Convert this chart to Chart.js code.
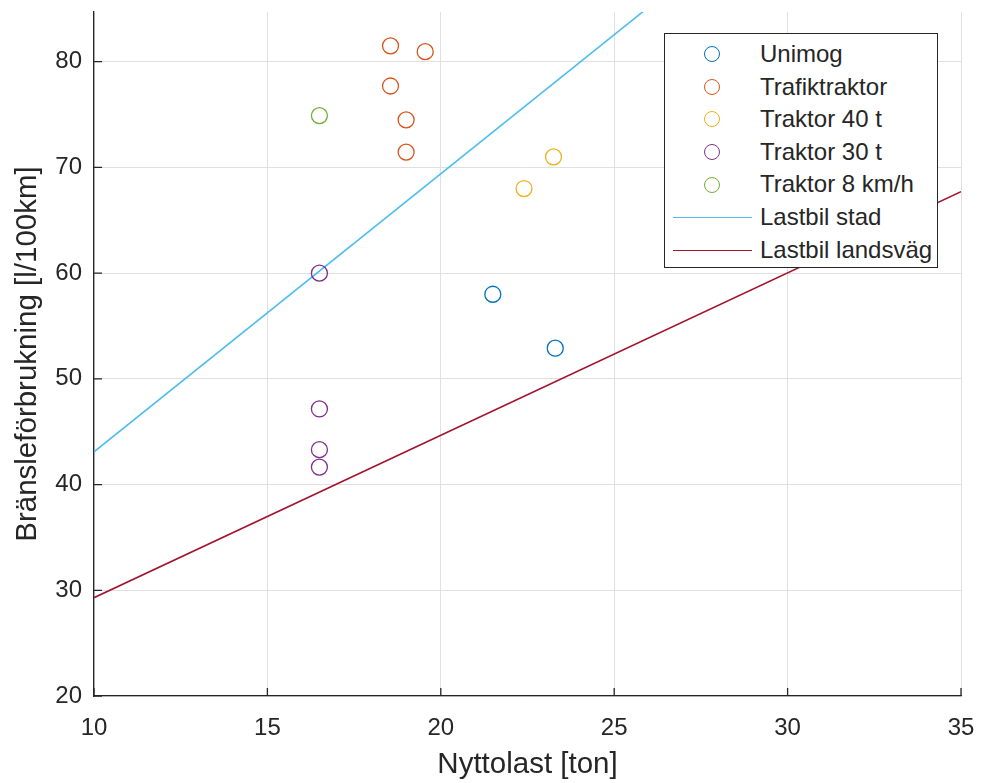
<!DOCTYPE html>
<html>
<head>
    <title>Bränsleförbrukning</title>
    <style>
        body { margin: 0; background: #fff; font-family: "Liberation Sans", Arial, sans-serif; }
        #wrap { position: relative; width: 982px; height: 783px; }
        #legend { position: absolute; left: 664px; top: 33px; width: 272px; height: 229px;
                  border: 1px solid #262626; background: #fff; padding-top: 4px; box-sizing: content-box; }
        .row { position: relative; height: 32.6px; line-height: 32.6px; font-size: 24px; color: #262626; }
        .row span { position: absolute; left: 95px; top: 0; }
        .mark { position: absolute; left: 39px; top: 8.3px; width: 14px; height: 14px; border-radius: 50%; border: 1.4px solid; }
        .line { position: absolute; left: 8px; width: 79px; top: 16px; height: 0; border-top: 1.6px solid; }
    </style>
</head>
<body>
<div id="wrap">
    <canvas id="chart" width="982" height="783"></canvas>
    <div id="legend"></div>
</div>
<script src="https://cdn.jsdelivr.net/npm/chart.js"></script>
<script>
// measured points
const unimogX = [21.5, 23.3];
const unimogY = [58, 52.9];
const trafikX = [18.55, 19.55, 18.55, 19.0, 19.0];
const trafikY = [81.5, 80.95, 77.7, 74.5, 71.45];
const trak40X = [23.25, 22.4];
const trak40Y = [71.0, 68.0];
const trak30X = [16.5, 16.5, 16.5, 16.5];
const trak30Y = [60.0, 47.15, 43.3, 41.65];
const trak8X = [16.5];
const trak8Y = [74.9];
// lines (Lastbil)
const stadX = [10, 35];
const stadY = [43.1, 108.85];
const landX = [10, 35];
const landY = [29.3, 67.7];

const xTicks = [10, 15, 20, 25, 30, 35];
const yTicks = [20, 30, 40, 50, 60, 70, 80];

const zip = (xs, ys) => xs.map((x, i) => ({ x: x, y: ys[i] }));
const ink = '#262626';

const scatterSets = [
    { label: 'Unimog', xs: unimogX, ys: unimogY, color: '#0072BD' },
    { label: 'Trafiktraktor', xs: trafikX, ys: trafikY, color: '#D95319' },
    { label: 'Traktor 40 t', xs: trak40X, ys: trak40Y, color: '#EDB120' },
    { label: 'Traktor 30 t', xs: trak30X, ys: trak30Y, color: '#7E2F8E' },
    { label: 'Traktor 8 km/h', xs: trak8X, ys: trak8Y, color: '#77AC30' }
];
const lineSets = [
    { label: 'Lastbil stad', xs: stadX, ys: stadY, color: '#4DBEEE' },
    { label: 'Lastbil landsväg', xs: landX, ys: landY, color: '#A2142F' }
];

const datasets = [];
scatterSets.forEach(s => datasets.push({
    label: s.label, data: zip(s.xs, s.ys), showLine: false,
    pointStyle: 'circle', pointRadius: 8, pointBorderWidth: 1.3,
    pointBorderColor: s.color, pointBackgroundColor: 'rgba(0,0,0,0)'
}));
lineSets.forEach(s => datasets.push({
    label: s.label, data: zip(s.xs, s.ys), showLine: true,
    borderColor: s.color, borderWidth: 1.6, pointRadius: 0
}));

// MATLAB style inward tick marks
const inwardTicks = {
    id: 'inwardTicks',
    afterDraw(chart) {
        const ctx = chart.ctx, a = chart.chartArea;
        const xs = chart.scales.x, ys = chart.scales.y;
        ctx.save();
        ctx.strokeStyle = ink;
        ctx.lineWidth = 1.3;
        ctx.beginPath();
        xTicks.forEach(v => {
            const p = xs.getPixelForValue(v);
            ctx.moveTo(p, a.bottom); ctx.lineTo(p, a.bottom - 8);
        });
        yTicks.forEach(v => {
            const p = ys.getPixelForValue(v);
            ctx.moveTo(a.left, p); ctx.lineTo(a.left + 8, p);
        });
        ctx.stroke();
        ctx.restore();
    }
};

const tickFont = { family: '"Liberation Sans", Arial, sans-serif', size: 24 };
const titleFont = { family: '"Liberation Sans", Arial, sans-serif', size: 29.5 };

new Chart(document.getElementById('chart').getContext('2d'), {
    type: 'scatter',
    data: { datasets: datasets },
    plugins: [inwardTicks],
    options: {
        responsive: false,
        animation: false,
        layout: { autoPadding: false, padding: { top: 12, right: 21, left: 0, bottom: 0 } },
        plugins: { legend: { display: false }, tooltip: { enabled: false } },
        scales: {
            x: {
                type: 'linear', min: 10, max: 35,
                afterBuildTicks: s => { s.ticks = xTicks.map(v => ({ value: v })); },
                afterFit: s => { s.height = 87; s.paddingLeft = 0; s.paddingRight = 0; },
                ticks: { color: ink, font: tickFont, padding: 18, maxRotation: 0 },
                grid: { color: '#e0e0e0', lineWidth: 1, drawTicks: false },
                border: { color: ink, width: 1.3 },
                title: { display: true, text: 'Nyttolast [ton]', color: ink, font: titleFont, padding: { top: 0, bottom: 0 } }
            },
            y: {
                type: 'linear', min: 20, max: 84.7,
                afterBuildTicks: s => { s.ticks = yTicks.map(v => ({ value: v })); },
                afterFit: s => { s.width = 94; s.paddingTop = 0; s.paddingBottom = 0; },
                ticks: { color: ink, font: tickFont, padding: 12, includeBounds: false },
                grid: { color: '#e0e0e0', lineWidth: 1, drawTicks: false },
                border: { color: ink, width: 1.3 },
                title: { display: true, text: 'Bränsleförbrukning [l/100km]', color: ink, font: titleFont, padding: { top: 10, bottom: 0 } }
            }
        }
    }
});

// legend box drawn as html, inside the plot area like the original
const legend = document.getElementById('legend');
scatterSets.forEach(s => {
    legend.insertAdjacentHTML('beforeend',
        `<div class="row"><div class="mark" style="border-color:${s.color}"></div><span>${s.label}</span></div>`);
});
lineSets.forEach(s => {
    legend.insertAdjacentHTML('beforeend',
        `<div class="row"><div class="line" style="border-color:${s.color}"></div><span>${s.label}</span></div>`);
});
</script>
</body>
</html>
